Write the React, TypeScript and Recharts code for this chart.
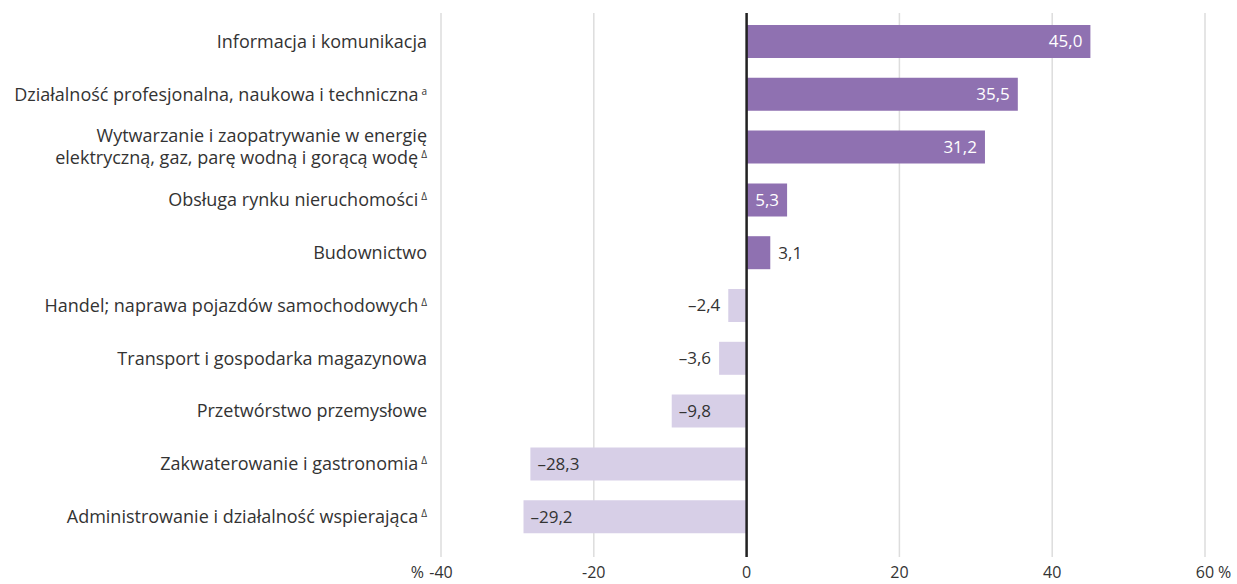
import { BarChart, Bar, XAxis, YAxis, CartesianGrid, ReferenceLine, Cell, LabelList } from "recharts";

const categories = [
  "Informacja i komunikacja",
  "Działalność profesjonalna, naukowa i techniczna",
  "Wytwarzanie i zaopatrywanie w energię\nelektryczną, gaz, parę wodną i gorącą wodę",
  "Obsługa rynku nieruchomości",
  "Budownictwo",
  "Handel; naprawa pojazdów samochodowych",
  "Transport i gospodarka magazynowa",
  "Przetwórstwo przemysłowe",
  "Zakwaterowanie i gastronomia",
  "Administrowanie i działalność wspierająca",
];
const footnotes = ["", "a", "Δ", "Δ", "", "Δ", "", "", "Δ", "Δ"];
const values = [45.0, 35.5, 31.2, 5.3, 3.1, -2.4, -3.6, -9.8, -28.3, -29.2];
const xTicks = [-40, -20, 0, 20, 40, 60];

const data = categories.map((name, i) => ({ name, note: footnotes[i], value: values[i] }));

const FONT = "'Open Sans', 'Noto Sans', sans-serif";
const TEXT = "#333333";
const POS = "#8f71b1";
const NEG = "#d7cfe7";

const fmt = (v: number) => (v < 0 ? "–" : "") + Math.abs(v).toFixed(1).replace(".", ",");

function CategoryTick(props: any) {
  const { x, y, payload, index } = props;
  const lines = String(payload.value).split("\n");
  const note = footnotes[index] ?? "";
  const lh = 22;
  const start = y - ((lines.length - 1) * lh) / 2;
  return (
    <g>
      {lines.map((ln, i) => (
        <text key={i} x={x} y={start + i * lh} dy="0.35em" textAnchor="end" fontSize={18} fontFamily={FONT} fill={TEXT}>
          {ln}
          {i === lines.length - 1 && note ? (
            <tspan dx={3} dy={-6} fontSize={10}>{note}</tspan>
          ) : null}
        </text>
      ))}
    </g>
  );
}

function ValueTick(props: any) {
  const { x, y, payload } = props;
  const v = payload.value;
  return (
    <g>
      <text x={x} y={y} dy="0.71em" textAnchor="middle" fontSize={16} fontFamily={FONT} fill={TEXT}>{String(v)}</text>
      {v === -40 && (
        <text x={x - 17} y={y} dy="0.71em" textAnchor="end" fontSize={16} fontFamily={FONT} fill={TEXT}>%</text>
      )}
      {v === 60 && (
        <text x={x + 13} y={y} dy="0.71em" textAnchor="start" fontSize={16} fontFamily={FONT} fill={TEXT}>%</text>
      )}
    </g>
  );
}

function ValueLabel(props: any) {
  const { x, y, width, height, value } = props;
  const left = Math.min(x, x + width);
  const right = Math.max(x, x + width);
  const cy = y + height / 2;
  let tx = 0;
  let anchor: "start" | "end" = "start";
  let fill = TEXT;
  if (value >= 5) { tx = right - 8; anchor = "end"; fill = "#ffffff"; }
  else if (value > 0) { tx = right + 8; anchor = "start"; }
  else if (value <= -5) { tx = left + 7; anchor = "start"; }
  else { tx = left - 8; anchor = "end"; }
  return (
    <text x={tx} y={cy} dy="0.35em" textAnchor={anchor} fontSize={17} fontFamily={FONT} fill={fill}>
      {fmt(value)}
    </text>
  );
}

export default function App() {
  return (
    <div style={{ width: 1237, height: 584, background: "#fff" }}>
      <style>{"body{margin:0}"}</style>
      <BarChart
        width={1237}
        height={584}
        data={data}
        layout="vertical"
        margin={{ top: 13, right: 32, left: 0, bottom: 0 }}
      >
        <CartesianGrid horizontal={false} stroke="#dddddd" strokeWidth={1.5} />
        <XAxis
          type="number"
          domain={[-40, 60]}
          ticks={xTicks}
          axisLine={false}
          tickLine={false}
          height={27}
          tickSize={0}
          tickMargin={10}
          tick={<ValueTick />}
          interval={0}
        />
        <YAxis
          type="category"
          dataKey="name"
          width={441}
          axisLine={false}
          tickLine={false}
          tickSize={0}
          tickMargin={14}
          tick={<CategoryTick />}
          interval={0}
          padding={{ top: 2, bottom: 14 }}
        />
        <Bar dataKey="value" barSize={33} isAnimationActive={false}>
          {data.map((d, i) => (
            <Cell key={i} fill={d.value >= 0 ? POS : NEG} />
          ))}
          <LabelList dataKey="value" content={<ValueLabel />} />
        </Bar>
        <ReferenceLine x={0} stroke="#222222" strokeWidth={2.5} />
      </BarChart>
    </div>
  );
}
